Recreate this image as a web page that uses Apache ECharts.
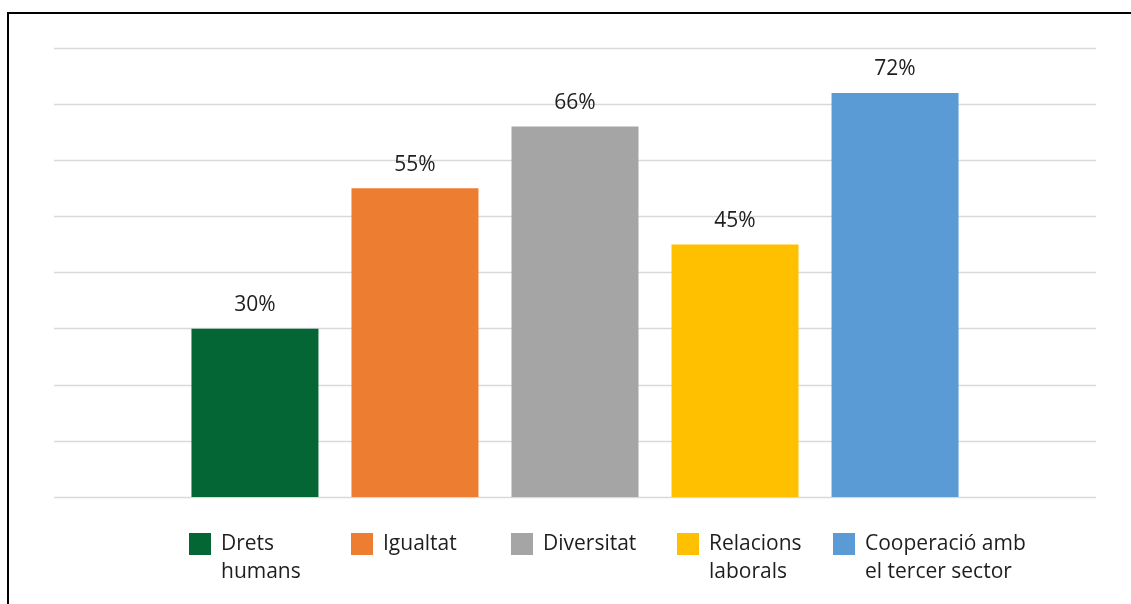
<!DOCTYPE html>
<html>
<head>
<meta charset="utf-8">
<script src="https://cdn.jsdelivr.net/npm/echarts@6/dist/echarts.min.js"></script>
<style>
html,body{margin:0;padding:0;background:#fff;}
#chart{width:1131px;height:604px;}
</style>
</head>
<body>
<div id="chart"></div>
<script>
// Data
const categories = ['Drets humans', 'Igualtat', 'Diversitat', 'Relacions laborals', 'Cooperació amb el tercer sector'];
const legendLabels = ['Drets\nhumans', 'Igualtat', 'Diversitat', 'Relacions\nlaborals', 'Cooperació amb\nel tercer sector'];
const values = [30, 55, 66, 45, 72];
const colors = ['#046635', '#ED7D31', '#A5A5A5', '#FFC000', '#5B9BD5'];
const legendLeft = [189, 351, 511, 677, 833];

const font = '"Open Sans", sans-serif';
const textColor = '#1E1E1E';

const series = categories.map((name, i) => ({
  name: name,
  type: 'bar',
  data: [values[i]],
  barWidth: 127,
  barGap: '26%',
  itemStyle: { color: colors[i] },
  label: {
    show: true,
    position: 'top',
    distance: 13,
    formatter: '{c}%',
    fontFamily: font,
    fontSize: 21,
    color: textColor
  }
}));

const legends = categories.map((name, i) => {
  const twoLine = legendLabels[i].indexOf('\n') >= 0;
  // a leading empty line keeps the first text line level with the square
  const label = twoLine ? '\n' + legendLabels[i] : legendLabels[i];
  return {
    left: legendLeft[i],
    top: twoLine ? 502 : 530,
    padding: 0,
    orient: 'horizontal',
    itemWidth: 22,
    itemHeight: 22,
    icon: 'rect',
    selectedMode: false,
    data: [name],
    formatter: () => label,
    textStyle: {
      fontFamily: font,
      fontSize: 21,
      lineHeight: 28,
      color: textColor,
      padding: [0, 0, 0, 5]
    }
  };
});

const chart = echarts.init(document.getElementById('chart'), null, { renderer: 'canvas' });
chart.setOption({
  backgroundColor: '#ffffff',
  animation: false,
  grid: { left: 54, right: 35, top: 48, bottom: 107, containLabel: false },
  xAxis: {
    type: 'category',
    data: [''],
    axisLine: { show: false },
    axisTick: { show: false },
    axisLabel: { show: false }
  },
  yAxis: {
    type: 'value',
    min: 0,
    max: 80,
    interval: 10,
    axisLine: { show: false },
    axisTick: { show: false },
    axisLabel: { show: false },
    splitLine: { show: true, lineStyle: { color: '#D9D9D9', width: 1.3 } }
  },
  legend: legends,
  series: series,
  graphic: [{
    type: 'rect',
    shape: { x: 8, y: 13, width: 2000, height: 2000 },
    style: { fill: 'none', stroke: '#000000', lineWidth: 2 },
    silent: true
  }]
});
</script>
</body>
</html>
